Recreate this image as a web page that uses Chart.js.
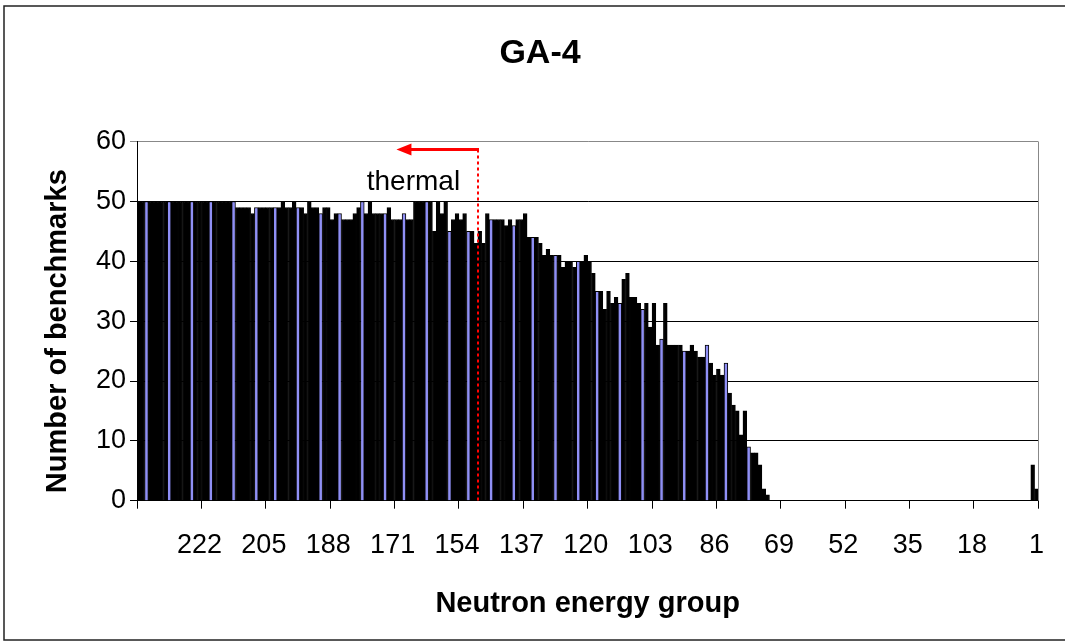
<!DOCTYPE html>
<html>
<head>
<meta charset="utf-8">
<script src="https://cdn.jsdelivr.net/npm/chart.js@4.4.1/dist/chart.umd.min.js"></script>
<style>
  html, body { margin: 0; padding: 0; background: #fff; }
  #wrap { width: 1065px; height: 644px; }
</style>
</head>
<body>
<div id="wrap"><canvas id="myChart" width="1065" height="644"></canvas></div>
<script>
// neutron energy groups, shown from 238 (left) down to 1 (right)
var groups = [];
for (var g = 238; g >= 1; g--) groups.push(g);

// number of benchmarks per group, same order as groups (238 ... 1)
var benchmarks = [
  50, 50, 50, 50, 50, 50, 50, 50, 50, 50, 50, 50, 50, 50, 50, 50, 50, 50, 50, 50,
  50, 50, 50, 50, 50, 50, 49, 49, 49, 49, 48, 49, 49, 49, 49, 49, 49, 49, 50, 49,
  49, 50, 49, 49, 48, 50, 49, 49, 48, 49, 49, 47, 48, 48, 47, 47, 47, 48, 49, 50,
  48, 50, 48, 48, 48, 48, 49, 47, 47, 47, 48, 47, 47, 50, 50, 50, 50, 50, 45, 50,
  48, 50, 45, 47, 48, 47, 48, 45, 45, 43, 45, 43, 48, 47, 47, 47, 47, 46, 47, 46,
  47, 47, 48, 44, 44, 44, 43, 41, 42, 41, 41, 41, 39, 40, 40, 39, 40, 40, 41, 40,
  38, 35, 35, 32, 35, 33, 34, 33, 37, 38, 34, 34, 33, 32, 33, 29, 33, 26, 27, 33,
  26, 26, 26, 26, 25, 25, 26, 25, 24, 24, 26, 23, 21, 22, 21, 23, 18, 16, 15, 11,
  15, 9, 8, 8, 6, 2, 1, 0, 0, 0, 0, 0, 0, 0, 0, 0, 0, 0, 0, 0,
  0, 0, 0, 0, 0, 0, 0, 0, 0, 0, 0, 0, 0, 0, 0, 0, 0, 0, 0, 0,
  0, 0, 0, 0, 0, 0, 0, 0, 0, 0, 0, 0, 0, 0, 0, 0, 0, 0, 0, 0,
  0, 0, 0, 0, 0, 0, 0, 0, 0, 0, 0, 0, 0, 0, 0, 0, 6, 2
];

var yTicks = [0, 10, 20, 30, 40, 50, 60];

// thermal boundary lies between groups 149 and 148, arrow points to group 170
var thermalFrom = 149;
var thermalTo = 148;
var arrowTo = 170;
var arrowLevel = 58.7;
var thermalLabelLevel = 53.3;

var font = "Arial, 'Liberation Sans', sans-serif";

var extras = {
  id: 'extras',
  afterDatasetsDraw: function (chart) {
    var c = chart.ctx, x = chart.scales.x, y = chart.scales.y, a = chart.chartArea;
    // grey right edge of the plot
    c.save();
    c.strokeStyle = '#888';
    c.lineWidth = 1;
    c.beginPath();
    c.moveTo(Math.round(a.right) + 0.5, a.top);
    c.lineTo(Math.round(a.right) + 0.5, a.bottom);
    c.stroke();

    // thermal cut line
    var lx = Math.round((x.getPixelForValue(groups.indexOf(thermalFrom)) + x.getPixelForValue(groups.indexOf(thermalTo))) / 2);
    var ay = Math.round(y.getPixelForValue(arrowLevel)) + 0.5;
    c.strokeStyle = '#ff0000';
    c.lineWidth = 2;
    c.setLineDash([3, 3]);
    c.beginPath();
    c.moveTo(lx, ay);
    c.lineTo(lx, a.bottom);
    c.stroke();
    c.setLineDash([]);

    // arrow
    var tx = x.getPixelForValue(groups.indexOf(arrowTo));
    c.lineWidth = 3;
    c.beginPath();
    c.moveTo(lx + 1, ay);
    c.lineTo(tx + 14, ay);
    c.stroke();
    c.fillStyle = '#ff0000';
    c.beginPath();
    c.moveTo(tx, ay);
    c.lineTo(tx + 15, ay - 6);
    c.lineTo(tx + 15, ay + 6);
    c.closePath();
    c.fill();

    c.fillStyle = '#000';
    c.font = "28px " + font;
    c.textAlign = 'center';
    c.textBaseline = 'middle';
    c.fillText('thermal', tx + 17, y.getPixelForValue(thermalLabelLevel));

    // y axis title, sits a little below the middle of the plot
    c.save();
    c.translate(58, (a.top + a.bottom) / 2 + 10);
    c.rotate(-Math.PI / 2);
    c.font = "bold 29px " + font;
    c.fillText('Number of benchmarks', 0, 0);
    c.restore();

    // outer chart frame (right side runs off the picture)
    c.strokeStyle = '#222';
    c.lineWidth = 1.5;
    c.strokeRect(4, 6, chart.width + 10, chart.height - 10);
    c.restore();
  }
};

var ctx = document.getElementById('myChart').getContext('2d');
var chart = new Chart(ctx, {
  type: 'bar',
  data: {
    labels: groups,
    datasets: [{
      label: 'Number of benchmarks',
      data: benchmarks,
      backgroundColor: function (c) { return (c.dataIndex % 17 === 2 || c.dataIndex % 17 === 8 || c.dataIndex % 17 === 14) ? '#8f8ff5' : '#000'; },
      borderColor: '#000',
      borderWidth: 1,
      barPercentage: 1,
      categoryPercentage: 1
    }]
  },
  options: {
    responsive: false,
    animation: false,
    events: [],
    layout: { padding: { left: 25, right: 10, top: 0, bottom: 0 } },
    plugins: {
      legend: { display: false },
      tooltip: { enabled: false },
      title: {
        display: true,
        text: 'GA-4',
        color: '#000',
        font: { family: font, size: 34, weight: 'bold' },
        padding: { top: 33.4, bottom: 67.5 }
      }
    },
    scales: {
      x: {
        offset: true,
        afterFit: function (s) { s.height = 143.3; },
        grid: {
          offset: true,
          drawOnChartArea: false,
          tickLength: 8,
          color: function (c) {
            if (c.type !== 'tick') return '#000';
            return c.index % 17 === 0 ? '#000' : 'rgba(0,0,0,0)';
          }
        },
        border: { color: '#000', width: 1 },
        ticks: {
          autoSkip: false,
          maxRotation: 0,
          color: '#000',
          padding: 21,
          font: { family: font, size: 27 },
          callback: function (v, i) { return (groups[i] - 1) % 17 === 0 ? String(groups[i]) : ''; }
        },
        title: {
          display: true,
          text: 'Neutron energy group',
          color: '#000',
          font: { family: font, size: 29, weight: 'bold' },
          padding: { bottom: 23 }
        }
      },
      y: {
        min: 0,
        max: 60,
        afterFit: function (s) { s.width = 112; },
        afterBuildTicks: function (s) { s.ticks = yTicks.map(function (v) { return { value: v }; }); },
        grid: {
          tickLength: 7,
          color: function (c) { return c.tick && c.tick.value === 60 ? '#888' : '#000'; }
        },
        border: { color: '#000', width: 1 },
        ticks: {
          color: '#000',
          padding: 4,
          font: { family: font, size: 27 }
        }
      }
    }
  },
  plugins: [extras]
});
</script>
</body>
</html>
